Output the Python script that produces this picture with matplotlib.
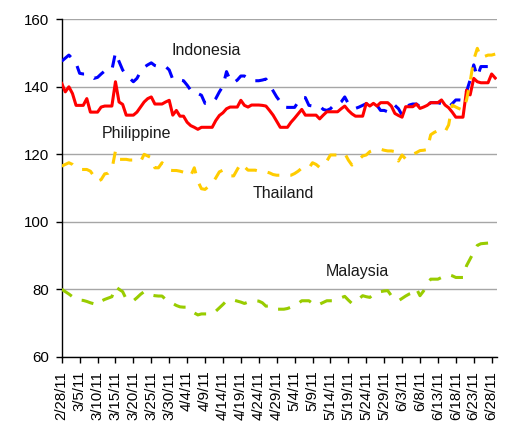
import matplotlib
matplotlib.use("Agg")
import matplotlib.pyplot as plt
import numpy as np

plt.rcParams['font.family'] = ['Liberation Sans', 'DejaVu Sans']

# day index 0 = 2/28/11, one value per calendar day
indonesia = [147.6, 148.5, 149.4, 148.3, 147.0, 144.0, 143.8, 143.8, 143.2, 142.5,
             142.8, 143.8, 144.7, 144.8, 145.0, 150.1, 147.5, 145.0, 143.5, 142.5,
             141.5, 142.5, 144.5, 145.8, 146.5, 147.1, 146.3, 146.0, 146.0, 146.0,
             145.0, 142.2, 142.1, 142.0, 141.8, 140.5, 139.0, 138.0, 138.0, 137.5,
             135.1, 135.2, 135.3, 136.5, 138.5, 140.2, 144.5, 142.0, 141.2, 142.0,
             143.2, 143.2, 142.5, 141.8, 141.8, 141.8, 142.0, 142.3, 140.5, 138.8,
             137.0, 135.6, 134.0, 133.9, 133.9, 133.9, 135.5, 136.9, 136.8, 134.5,
             134.3, 134.3, 134.3, 133.3, 133.0, 133.5, 134.6, 134.6, 135.5, 137.0,
             135.0, 134.3, 133.6, 134.0, 134.5, 135.0, 134.6, 135.0, 134.5, 133.0,
             133.0, 132.6, 133.0, 134.5, 133.5, 131.6, 133.5, 134.6, 134.9, 134.9,
             134.1, 134.1, 134.5, 135.3, 135.3, 135.3, 135.0, 134.6, 134.0, 135.0,
             136.1, 136.1, 136.0, 138.6, 142.0, 146.5, 143.0, 146.0, 146.0, 146.0,
             146.5, 147.4]

philippine = [141.0, 138.5, 140.0, 138.0, 134.5, 134.5, 134.5, 136.5, 132.5, 132.5,
              132.5, 134.0, 134.3, 134.3, 134.3, 141.5, 135.5, 134.8, 131.6, 131.6,
              131.6, 132.5, 134.0, 135.5, 136.5, 137.0, 134.9, 134.9, 134.9, 135.5,
              136.0, 131.6, 133.0, 131.3, 131.3, 129.5, 128.5, 128.0, 127.4, 128.0,
              128.0, 128.0, 128.0, 130.0, 131.5, 132.3, 133.5, 134.0, 134.0, 134.0,
              136.0, 134.5, 134.0, 134.6, 134.6, 134.6, 134.5, 134.3, 133.0, 131.6,
              129.8, 128.0, 128.0, 128.0, 129.5, 130.7, 132.0, 133.3, 131.6, 131.6,
              131.6, 131.6, 130.5, 131.6, 132.6, 132.6, 132.6, 132.6, 133.5, 134.3,
              133.0, 132.0, 131.3, 131.3, 131.3, 135.1, 134.3, 135.1, 134.3, 135.3,
              135.3, 135.3, 134.3, 132.1, 131.5, 131.0, 134.1, 134.1, 134.1, 134.9,
              133.6, 134.0, 134.5, 135.3, 135.3, 135.3, 136.1, 134.6, 133.8, 132.5,
              131.0, 131.0, 131.0, 139.0, 137.6, 142.5, 141.5, 141.2, 141.2, 141.2,
              143.8, 142.6]

thailand = [116.5, 117.0, 117.5, 117.0, 116.0, 115.5, 115.5, 115.5, 115.0, 113.5,
            112.0, 112.5, 114.2, 114.4, 115.5, 121.0, 118.5, 118.5, 118.5, 118.3,
            118.3, 118.0, 117.8, 120.0, 119.5, 119.0, 116.0, 116.0, 117.5, 116.5,
            115.3, 115.2, 115.2, 115.0, 114.7, 114.4, 113.6, 116.0, 112.0, 109.8,
            109.6, 110.5, 111.4, 113.0, 114.8, 115.3, 114.5, 113.6, 113.6, 115.5,
            117.3, 116.3, 115.3, 115.3, 115.3, 115.0, 115.0, 114.8, 114.5, 114.0,
            113.8, 113.8, 113.8, 113.8, 113.8, 114.3, 115.0, 115.9, 115.9, 115.9,
            117.5, 117.0, 116.1, 116.8, 118.0, 119.8, 119.8, 119.8, 120.0, 120.3,
            118.3, 116.8, 117.5, 118.5, 119.5, 119.8, 120.8, 121.2, 121.3, 121.5,
            121.2, 121.0, 121.0, 120.8, 118.0, 119.8, 118.6, 119.0, 120.0, 120.5,
            121.1, 121.2, 121.4, 125.8, 126.5, 127.0, 127.2, 126.7, 128.7, 134.6,
            134.0, 133.5, 133.1, 136.1, 141.5, 148.0, 151.4, 148.6, 149.0, 149.4,
            149.4, 149.7]

malaysia = [80.0, 79.3, 78.6, 77.8, 77.0, 76.8, 76.7, 76.4, 76.0, 75.7,
            75.4, 76.5, 77.0, 77.4, 77.8, 80.8, 80.0, 79.3, 77.1, 76.6,
            76.6, 77.5, 78.5, 79.3, 78.8, 78.3, 78.1, 78.0, 78.0, 77.0,
            76.2, 75.8, 75.2, 74.8, 74.7, 74.7, 73.8, 73.0, 72.4, 72.7,
            72.7, 72.7, 72.7, 73.5, 74.5, 75.5, 76.6, 76.7, 76.8, 76.5,
            76.2, 75.8, 76.2, 76.6, 76.6, 76.5, 76.0, 75.0, 75.1, 74.6,
            74.1, 74.1, 74.1, 74.3, 74.7, 75.1, 75.8, 76.6, 76.6, 76.6,
            75.8, 75.1, 75.6, 76.1, 76.6, 76.6, 76.6, 77.0, 77.5, 77.9,
            76.8, 75.8, 76.3, 77.2, 78.1, 77.8, 77.6, 78.5, 79.1, 79.3,
            79.5, 79.6, 78.1, 77.3, 76.6, 77.3, 78.0, 78.6, 79.0, 80.2,
            78.1, 79.5, 81.5, 83.0, 83.0, 83.0, 83.5, 84.0, 84.3, 84.0,
            83.5, 83.5, 83.5, 87.0, 89.0, 91.0, 93.0, 93.5, 93.6, 93.7,
            93.8, 94.0]

tick_days = list(range(0, 121, 5))
tick_labels = ["2/28/11", "3/5/11", "3/10/11", "3/15/11", "3/20/11", "3/25/11",
               "3/30/11", "4/4/11", "4/9/11", "4/14/11", "4/19/11", "4/24/11",
               "4/29/11", "5/4/11", "5/9/11", "5/14/11", "5/19/11", "5/24/11",
               "5/29/11", "6/3/11", "6/8/11", "6/13/11", "6/18/11", "6/23/11",
               "6/28/11"]

series_names = ["Indonesia", "Philippine", "Thailand", "Malaysia"]

fig = plt.figure(figsize=(5.28, 4.36), dpi=100)
ax = fig.add_axes([0.1169, 0.1817, 0.8244, 0.774])

lw = 2.2
dash = (0, (4.0, 3.6))
ax.plot(np.arange(len(indonesia)), indonesia, color="#0000FF", lw=lw, linestyle=dash,
        zorder=3)
ax.plot(np.arange(len(philippine)), philippine, color="#FF0000", lw=lw, zorder=4,
        solid_joinstyle="round")
ax.plot(np.arange(len(thailand)), thailand, color="#FFCC00", lw=lw, linestyle=dash,
        zorder=5)
ax.plot(np.arange(len(malaysia)), malaysia, color="#99CC00", lw=lw, linestyle=dash,
        zorder=5)

ax.set_xlim(0, 121.5)
ax.set_ylim(60, 160)
ax.set_yticks([60, 80, 100, 120, 140, 160])
ax.set_xticks(tick_days)
ax.set_xticklabels(tick_labels, rotation=90, fontsize=10.8)
ax.tick_params(axis='y', labelsize=10.8, length=4, direction='out', pad=5, width=1)
ax.tick_params(axis='x', length=4, direction='out', pad=6, width=1)
ax.grid(axis='y', color="#a6a6a6", lw=1)
ax.set_axisbelow(True)
for s in ["top", "right"]:
    ax.spines[s].set_visible(False)
for s in ["left", "bottom"]:
    ax.spines[s].set_color("black")
    ax.spines[s].set_linewidth(1)

label_pos = [(40.3, 150.9), (20.8, 126.2), (61.8, 108.4), (82.6, 85.2)]
for name, (lx, ly) in zip(series_names, label_pos):
    ax.text(lx, ly, name, fontsize=11.5, ha="center", va="center", color="#1a1a1a",
            zorder=6)

fig.savefig("out.png", dpi=100)
